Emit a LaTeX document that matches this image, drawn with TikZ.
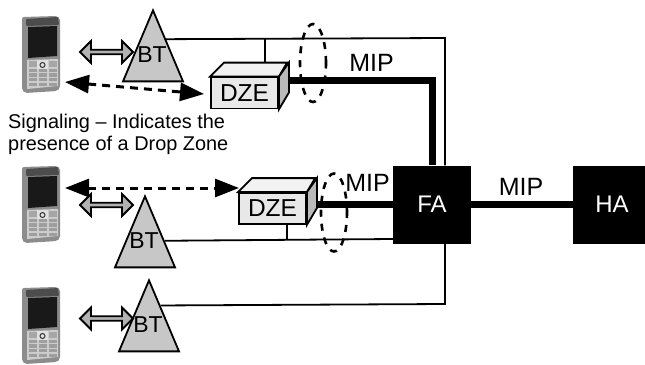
\documentclass[tikz,border=0pt]{standalone}
\usepackage{fontspec}
\setmainfont{Liberation Sans}
\usetikzlibrary{shapes.geometric,shapes.arrows,arrows.meta,calc}
\begin{document}
\begin{tikzpicture}[x=1pt,y=-1pt,line join=miter,
	tower/.style={draw,line width=1.8pt,fill=black!22,isosceles triangle,isosceles triangle stretches,shape border rotate=90,minimum width=60pt,minimum height=71pt,inner sep=0pt,anchor=apex},
	towertext/.style={font=\fontsize{23}{23}\selectfont,inner sep=0pt},
	zone/.style={draw,line width=1.8pt,fill=black!9,minimum width=67pt,minimum height=31pt,inner sep=0pt,font=\fontsize{24.5}{24.5}\selectfont},
	agent/.style={fill=black,text=white,minimum height=78pt,inner sep=0pt,font=\fontsize{24}{24}\selectfont},
	miptext/.style={font=\fontsize{25}{25}\selectfont,inner sep=0pt},
	radio/.style={draw,line width=1.8pt,fill=black!30,double arrow,double arrow head extend=3.5pt,double arrow tip angle=90,minimum height=53pt,minimum width=22pt,inner sep=0pt},
	signal/.style={line width=3pt,dash pattern=on 8pt off 6pt,{Triangle[length=24pt,width=18pt]}-{Triangle[length=24pt,width=18pt]}},
	group/.style={draw,ellipse,line width=2.6pt,dash pattern=on 7pt off 7pt,minimum width=26pt,minimum height=78pt,inner sep=0pt},
	thin link/.style={line width=1.8pt},
	thick link/.style={line width=7pt},
	phone/.pic={
		\fill[black!45,rounded corners=2pt] (0,1) -- (35,0) -- (38,2) -- (38,72) -- (35,75) -- (3,77) -- (0,74) -- cycle;
		\fill[black!70,rounded corners=1pt] (4,3) -- (36,1) -- (37,9) -- (4,10) -- cycle;
		\fill[black!90] (6,11) -- (35,10) -- (35,40) -- (6,42) -- cycle;
		\fill[black!20] (5,44) -- (36,43) -- (36,70) -- (5,73) -- cycle;
		\foreach \i in {0,1,2}
			\foreach \j in {0,1,2,3}
				\fill[black!38] ({6.5+10*\i},{52.5+4.7*\j}) rectangle ++(8,3.4);
		\fill[black!35] (6.5,45) rectangle ++(8,6);
		\fill[black!35] (26.5,45) rectangle ++(8,6);
		\fill[black!12] (15,44) rectangle ++(11,9);
		\draw[black!80,line width=1pt] (20.5,49) circle (2.5pt);
	}]
	\useasboundingbox (0,0) rectangle (645,364);
	\pic at (22,16) {phone};
	\pic at (22,166) {phone};
	\pic at (22,287) {phone};
	\node[tower] (bt1) at (153,8) {};
	\node[tower] (bt2) at (145,194) {};
	\node[tower] (bt3) at (149,278) {};
	\node[towertext] (bt1text) at (152,55) {BT};
	\node[towertext] (bt2text) at (144,241) {BT};
	\node[towertext] (bt3text) at (148,325) {BT};
	\node[zone] (dze1) at (244.5,93) {DZE};
	\node[zone] (dze2) at (272.5,208.5) {DZE};
	\node[agent,minimum width=78pt] (fa) at (432,204.5) {FA};
	\node[agent,minimum width=72pt] (ha) at (609,204.5) {\hspace{6pt}HA};
	\foreach \n in {dze1,dze2}
	{
		\draw[line width=1.8pt,fill=black!5] (\n.north west) -- ++(14,-14) -- ++(63,0) -- (\n.north east) -- cycle;
		\draw[line width=1.8pt,fill=black!27] (\n.north east) -- ++(10,-14) -- ++(0,30) -- (\n.south east) -- cycle;
	}
	\coordinate (corner1) at (445,38);
	\coordinate (corner2) at (445,304);
	\coordinate (port) at (393,239);
	\coordinate (bend) at (432,80);
	\coordinate (tap1) at (265,38);
	\coordinate (tap2) at (287,239);
	\draw[thin link] ($(bt1.apex)!0.42!(bt1.right corner)$) -- (corner1) -- (corner1 |- fa.north);
	\draw[thin link] ($(bt2.apex)!0.63!(bt2.right corner)$) -- (port);
	\draw[thin link] ($(bt3.apex)!0.37!(bt3.right corner)$) -- (corner2) -- (corner2 |- fa.south);
	\draw[thin link] (tap1) -- ($(tap1 |- dze1.north)+(0,-14)$);
	\draw[thin link] (tap2) -- (tap2 |- dze2.south);
	\draw[thick link] (288,80) -- (bend) -- (bend |- fa.north);
	\draw[thick link] (316,204.5) -- (fa.west);
	\draw[thick link] (fa.east) -- (ha.west);
	\node[radio] (radio1) at (106.5,52) {};
	\node[radio] (radio2) at (106.5,205) {};
	\node[radio] (radio3) at (106.5,318.5) {};
	\coordinate (phone1) at (65,82);
	\coordinate (phone2) at (65,188);
	\coordinate (zone1) at (204,94);
	\coordinate (zone2) at (239,188);
	\draw[signal] (phone1) -- (zone1);
	\draw[signal] (phone2) -- (zone2);
	\node[group] (group1) at (313,63) {};
	\node[group] (group2) at (334,212.5) {};
	\node[miptext] (mip1) at (371.5,63) {MIP};
	\node[miptext] (mip2) at (367.5,183) {MIP};
	\node[miptext] (mip3) at (521,186.5) {MIP};
	\node[anchor=north west,align=left,inner sep=0pt,font=\fontsize{19.9}{22}\selectfont] (note) at (8,114) {Signaling -- Indicates the\\presence of a Drop Zone};
\end{tikzpicture}
\end{document}
